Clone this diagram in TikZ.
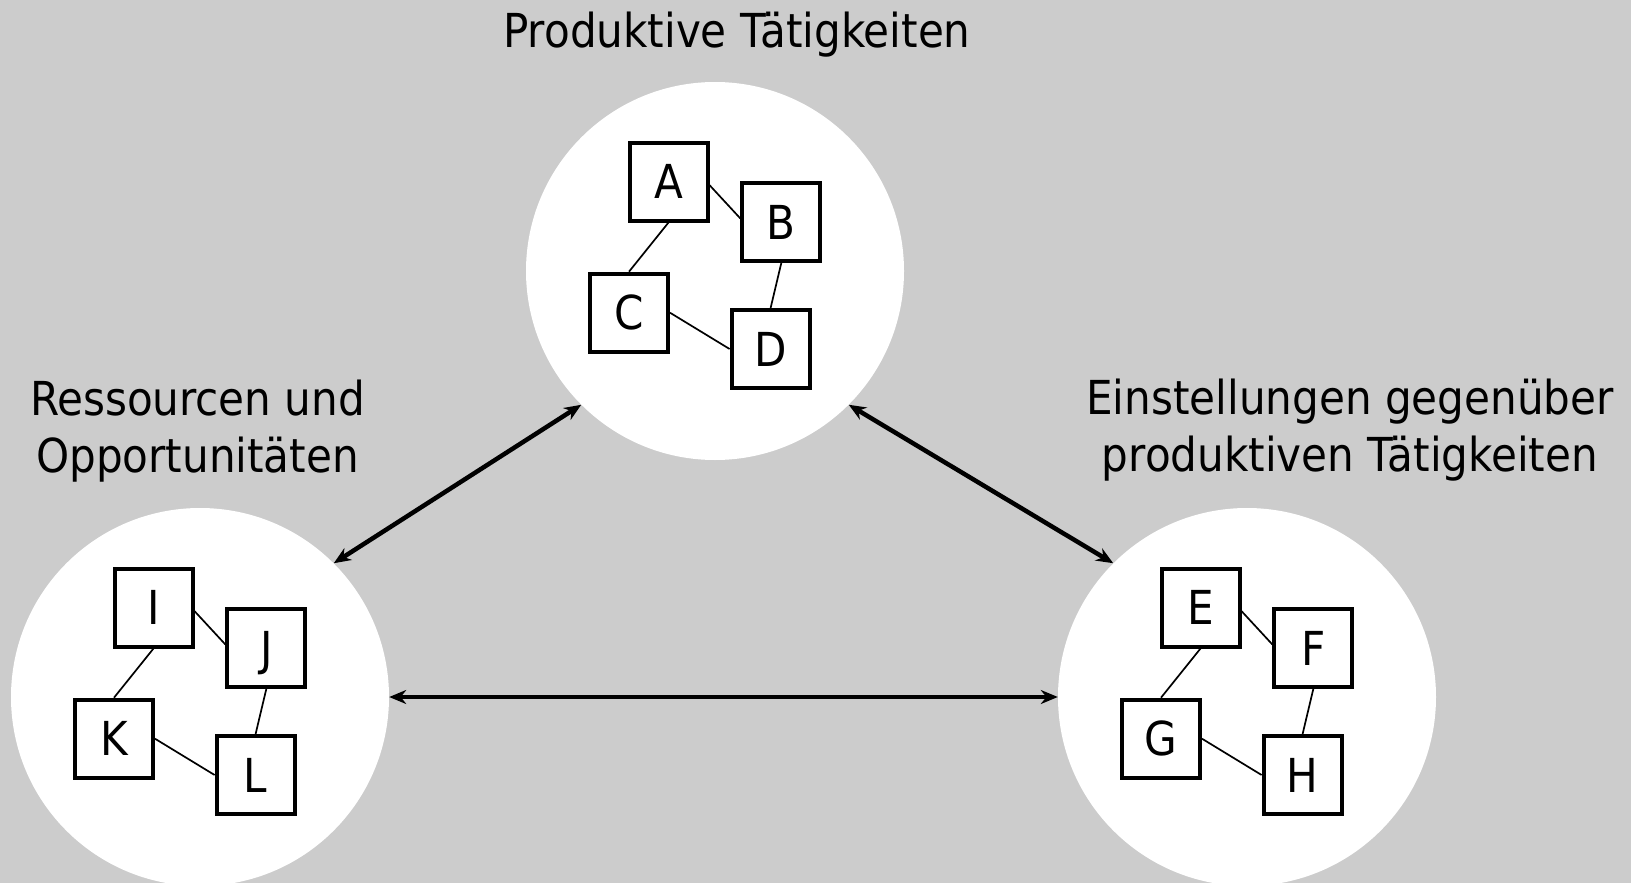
\documentclass[tikz,border=0pt]{standalone}
\usepackage{fontspec}
\setmainfont{DejaVu Sans Condensed}
\usepackage{xcolor}
\usetikzlibrary{math}
\usetikzlibrary{arrows.meta}
\definecolor{bggray}{RGB}{204,204,204}

\begin{document}
\begin{tikzpicture}[x=1pt, y=-1pt]
\tikzset{
  base/.style={align=center, font=\fontsize{46.8}{56.7}\selectfont},
  circ/.style={circle, fill=white, minimum size=378pt, inner sep=0pt},
  box/.style={base, draw, fill=white, line width=4pt, minimum size=78pt, inner sep=0pt, text height=34pt, text depth=0pt},
  link/.style={line width=1.7pt},
  dbl/.style={<->, >={Stealth[length=17pt, width=14pt]}, line width=4.5pt},
}

\fill [bggray] (0, 0) rectangle (1631, 883);
\useasboundingbox (0, 0) rectangle (1631, 883);

\tikzmath{\px=715; \py=271; \rx=200; \ry=697; \ex=1247; \ey=697;}

\node [circ] (prod) at (\px, \py) {};
\node [circ] (res) at (\rx, \ry) {};
\node [circ] (att) at (\ex, \ey) {};

% base of a two-line label is its last line
\node [base, anchor=base] (lprod) at (737, 47.3) {Produktive Tätigkeiten};
\node [base, anchor=base] (lres) at (197.5, 472) {Ressourcen und\\Opportunitäten};
\node [base, anchor=base] (latt) at (1350, 471) {Einstellungen gegenüber\\produktiven Tätigkeiten};

\draw [dbl] (res.45) -- (prod.-135);
\draw [dbl] (prod.-45) -- (att.135);
\draw [dbl] (res.east) -- (att.west);

% produktive taetigkeiten
\node [box] (a) at ({\px-46.5}, {\py-89.5}) {A};
\node [box] (b) at ({\px+66.3}, {\py-49}) {B};
\node [box] (c) at ({\px-86}, {\py+41.7}) {C};
\node [box] (d) at ({\px+55.6}, {\py+78}) {D};

% einstellungen
\node [box] (e) at ({\ex-46.5}, {\ey-89.5}) {E};
\node [box] (f) at ({\ex+66.3}, {\ey-49}) {F};
\node [box] (g) at ({\ex-86}, {\ey+41.7}) {G};
\node [box] (h) at ({\ex+55.6}, {\ey+78}) {H};

% ressourcen
\node [box] (i) at ({\rx-46.5}, {\ry-89.5}) {I};
\node [box] (j) at ({\rx+66.3}, {\ry-49}) {J};
\node [box] (k) at ({\rx-86}, {\ry+41.7}) {K};
\node [box] (l) at ({\rx+55.6}, {\ry+78}) {L};

\draw [link] (a.-5) -- (b.175);
\draw [link] (a.south) -- (c.north);
\draw [link] (b.south) -- (d.north);
\draw [link] (c.east) -- (d.west);

\draw [link] (e.-5) -- (f.175);
\draw [link] (e.south) -- (g.north);
\draw [link] (f.south) -- (h.north);
\draw [link] (g.east) -- (h.west);

\draw [link] (i.-5) -- (j.175);
\draw [link] (i.south) -- (k.north);
\draw [link] (j.south) -- (l.north);
\draw [link] (k.east) -- (l.west);
\end{tikzpicture}
\end{document}
